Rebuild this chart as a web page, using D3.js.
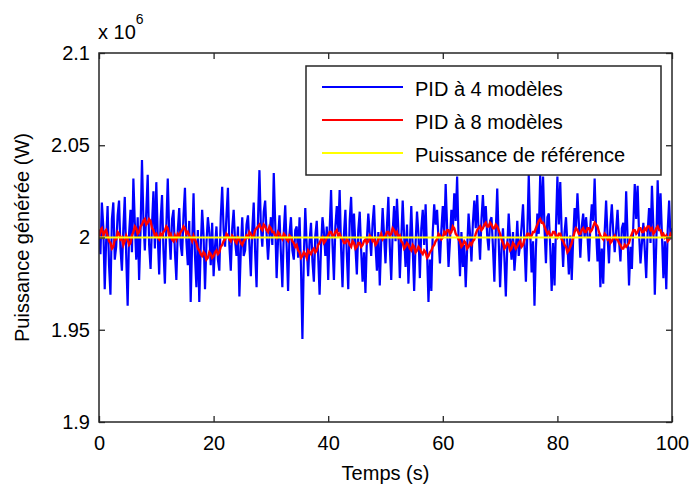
<!DOCTYPE html>
<html>
<head>
<meta charset="utf-8">
<script src="https://cdnjs.cloudflare.com/ajax/libs/d3/7.8.5/d3.min.js"></script>
<style>
  html, body { margin: 0; padding: 0; background: #fff; }
  text { font-family: "Liberation Sans", Arial, sans-serif; fill: #000; }
</style>
</head>
<body>
<div id="chart"></div>
<script>
// sample step of both simulated signals (s)
const dt = 0.25

// PID à 4 modèles (x 10^6 W), one value every 0.25 s from 0 to 100 s
const pid4 = [
  2.004, 1.991, 2.019, 2.006, 1.972, 1.998, 2.017, 1.985, 1.969, 2.010, 2.019, 1.988, 1.995, 2.012, 2.020, 1.994, 1.982, 2.005, 2.022, 1.990,
  1.963, 2.002, 2.015, 1.992, 2.032, 2.008, 1.988, 2.011, 1.977, 2.004, 2.042, 2.010, 1.993, 2.014, 2.034, 1.996, 1.983, 2.007, 2.025, 1.994,
  2.030, 2.001, 1.980, 2.009, 2.023, 1.993, 1.975, 2.006, 2.032, 2.003, 1.988, 2.010, 2.015, 1.992, 1.977, 2.004, 2.016, 1.996, 1.990, 2.012,
  2.027, 1.998, 1.985, 2.009, 1.965, 1.996, 2.024, 1.990, 1.973, 2.004, 1.965, 1.994, 2.015, 2.001, 1.972, 1.997, 2.011, 2.003, 1.985, 2.008,
  1.979, 1.995, 2.006, 1.988, 1.982, 2.011, 2.0275, 2.004, 1.995, 2.012, 2.027, 1.996, 1.982, 2.005, 2.015, 1.998, 1.990, 2.006, 1.968, 1.993,
  2.011, 1.990, 1.993, 2.007, 2.012, 1.996, 1.979, 2.004, 2.019, 1.992, 1.973, 2.010, 2.0365, 2.006, 1.995, 2.014, 2.020, 2.002, 1.988, 2.001,
  2.011, 1.996, 2.035, 2.008, 1.978, 1.999, 2.012, 1.991, 1.973, 2.003, 2.0175, 1.995, 1.971, 2.002, 2.011, 1.993, 1.988, 2.004, 2.006, 1.989,
  2.011, 1.984, 1.945, 1.990, 2.016, 1.996, 1.979, 1.998, 2.008, 1.987, 1.976, 2.001, 2.009, 1.990, 1.969, 1.995, 2.011, 2.003, 1.990, 2.006,
  1.977, 2.004, 2.0257, 1.996, 1.977, 2.006, 2.017, 2.003, 2.0257, 1.994, 1.973, 2.002, 2.015, 1.991, 1.972, 2.009, 2.022, 1.997, 2.013, 1.995,
  1.980, 2.004, 2.014, 1.993, 1.976, 1.992, 1.970, 1.999, 2.013, 2.002, 1.990, 2.008, 2.0175, 1.996, 1.982, 2.003, 1.974, 1.998, 2.016, 2.001,
  1.986, 2.006, 2.022, 1.995, 1.977, 2.003, 2.017, 1.998, 2.021, 2.004, 1.978, 1.999, 2.020, 2.001, 1.984, 2.007, 1.975, 1.996, 2.017, 1.994,
  1.971, 1.997, 2.014, 2.002, 1.978, 2.005, 2.015, 1.996, 2.018, 1.992, 1.965, 1.988, 1.971, 2.003, 2.018, 2.007, 2.015, 1.999, 1.986, 2.004,
  2.017, 2.001, 2.029, 2.006, 1.984, 1.998, 2.015, 2.004, 2.024, 2.009, 2.033, 2.000, 1.979, 2.003, 1.984, 1.996, 1.973, 1.994, 2.013, 2.002,
  1.987, 2.008, 2.020, 2.005, 2.023, 2.003, 1.988, 2.010, 2.023, 2.006, 2.017, 2.001, 1.993, 2.009, 2.011, 1.995, 1.976, 2.004, 2.0266, 1.999,
  1.973, 1.994, 2.005, 1.989, 1.968, 1.995, 2.013, 1.999, 1.988, 2.003, 1.982, 1.993, 2.009, 1.990, 1.996, 2.006, 2.018, 1.997, 1.976, 2.002,
  2.0338, 2.004, 1.981, 1.998, 1.963, 1.994, 2.013, 2.002, 2.0338, 2.008, 2.033, 2.005, 1.986, 2.011, 2.013, 1.995, 1.971, 1.997, 1.974, 2.006,
  2.033, 2.007, 2.030, 2.002, 1.984, 2.003, 2.011, 1.996, 1.980, 2.001, 1.977, 1.999, 2.016, 2.005, 2.024, 2.008, 1.989, 2.006, 2.013, 2.000,
  2.011, 2.001, 1.987, 2.006, 2.018, 2.009, 2.032, 2.004, 1.987, 2.002, 1.973, 1.994, 1.975, 2.003, 2.020, 2.001, 1.986, 2.007, 2.018, 2.003,
  1.992, 2.004, 2.015, 1.999, 1.987, 2.005, 2.008, 1.996, 2.025, 2.000, 1.974, 1.995, 1.983, 2.007, 2.029, 2.010, 2.028, 2.002, 1.986, 1.997,
  2.008, 1.993, 1.978, 2.003, 2.016, 1.997, 2.028, 2.006, 1.969, 1.996, 2.031, 2.004, 2.024, 2.001, 1.978, 1.998, 1.972, 2.004, 2.020, 1.999,
  2.005
]

// PID à 8 modèles (x 10^6 W), same sampling
const pid8 = [
  2.000, 2.004, 2.005, 2.001, 2.003, 2.004, 2.001, 1.998, 1.997, 1.994, 1.995, 1.999, 1.999, 2.003, 2.002, 1.999, 2.000, 1.996, 1.998, 2.001,
  1.999, 1.996, 1.997, 2.001, 2.003, 2.006, 2.005, 2.002, 2.003, 2.006, 2.007, 2.009, 2.010, 2.007, 2.008, 2.010, 2.009, 2.005, 2.004, 2.001,
  2.002, 2.000, 1.999, 2.002, 2.001, 2.003, 2.004, 2.006, 2.005, 2.001, 2.002, 1.999, 1.998, 2.001, 1.999, 2.002, 2.001, 2.003, 2.004, 2.006,
  2.005, 2.002, 2.003, 2.001, 2.000, 1.998, 2.001, 1.999, 1.997, 1.994, 1.993, 1.991, 1.990, 1.992, 1.991, 1.988, 1.989, 1.992, 1.991, 1.989,
  1.990, 1.992, 1.993, 1.991, 1.992, 1.995, 1.996, 1.998, 1.999, 2.002, 2.001, 1.999, 1.998, 2.001, 2.000, 1.998, 1.997, 2.000, 1.999, 1.997,
  1.996, 1.998, 1.999, 2.001, 2.000, 2.003, 2.002, 2.000, 2.001, 2.004, 2.005, 2.006, 2.007, 2.005, 2.004, 2.007, 2.006, 2.004, 2.003, 2.006,
  2.005, 2.003, 2.003, 2.001, 2.000, 2.003, 2.002, 2.000, 1.999, 2.002, 2.001, 1.999, 1.998, 2.001, 2.000, 1.998, 1.997, 1.995, 1.996, 1.993,
  1.992, 1.989, 1.990, 1.992, 1.991, 1.989, 1.993, 1.992, 1.991, 1.993, 1.994, 1.992, 1.993, 1.996, 1.997, 1.999, 2.000, 1.997, 1.998, 2.000,
  2.001, 2.003, 2.003, 2.001, 2.001, 2.003, 2.004, 2.001, 2.002, 2.000, 1.999, 1.997, 1.997, 1.999, 1.998, 1.996, 1.995, 1.998, 1.997, 1.994,
  1.995, 1.997, 1.997, 1.995, 1.996, 1.998, 1.999, 1.997, 1.998, 2.001, 2.000, 1.998, 1.999, 1.996, 1.997, 1.999, 2.000, 2.002, 1.999, 2.000,
  2.001, 2.003, 2.003, 2.001, 2.002, 2.005, 2.004, 2.002, 2.003, 2.000, 2.001, 1.998, 1.997, 1.994, 1.995, 1.997, 1.996, 1.994, 1.993, 1.996,
  1.995, 1.992, 1.993, 1.995, 1.994, 1.992, 1.991, 1.993, 1.992, 1.989, 1.990, 1.992, 1.993, 1.995, 1.996, 1.998, 1.999, 2.002, 2.001, 1.999,
  2.000, 2.003, 2.002, 2.004, 2.004, 2.002, 2.003, 2.006, 2.005, 2.002, 2.001, 1.999, 1.998, 1.995, 1.996, 1.998, 1.997, 1.994, 1.995, 1.997,
  1.996, 1.998, 1.999, 2.002, 2.004, 2.005, 2.006, 2.004, 2.005, 2.007, 2.008, 2.006, 2.006, 2.008, 2.007, 2.005, 2.005, 2.007, 2.006, 2.004,
  2.002, 1.999, 1.997, 1.994, 1.995, 1.997, 1.996, 1.993, 1.994, 1.997, 1.996, 1.994, 1.995, 1.997, 1.998, 1.995, 1.996, 1.999, 2.000, 2.002,
  2.002, 2.000, 2.001, 2.003, 2.003, 2.005, 2.007, 2.009, 2.010, 2.008, 2.008, 2.006, 2.004, 2.002, 2.003, 2.001, 2.001, 2.003, 2.003, 2.001,
  2.000, 2.002, 2.002, 1.999, 1.998, 1.996, 1.995, 1.992, 1.993, 1.995, 1.997, 2.000, 2.003, 2.005, 2.004, 2.002, 2.002, 2.004, 2.005, 2.003,
  2.003, 2.005, 2.005, 2.003, 2.004, 2.006, 2.008, 2.007, 2.006, 2.003, 2.001, 2.000, 1.999, 2.002, 2.001, 1.999, 2.000, 1.997, 1.998, 2.000,
  2.001, 1.999, 1.999, 1.997, 1.996, 1.994, 1.994, 1.996, 1.995, 1.996, 1.997, 2.000, 2.002, 2.004, 2.004, 2.002, 2.003, 2.005, 2.005, 2.003,
  2.003, 2.005, 2.004, 2.006, 2.006, 2.004, 2.005, 2.002, 2.003, 2.005, 2.006, 2.004, 2.004, 2.001, 2.002, 2.000, 2.001, 1.998, 1.999, 2.002,
  2.001
]

// Puissance de référence
const refTime = [0, 100]
const refValue = [2.0, 2.0]

const xTicks = [0, 20, 40, 60, 80, 100]
const yTicks = [1.9, 1.95, 2.0, 2.05, 2.1]
const yTickLabels = ['1.9', '1.95', '2', '2.05', '2.1']

const legendLabels = ['PID à 4 modèles', 'PID à 8 modèles', 'Puissance de référence']
const colors = ['#0000ff', '#ff0000', '#ffff00']
const widths = [2.2, 2.4, 2]

const width = 690
const height = 487
const plotLeft = 99, plotRight = 672, plotTop = 53, plotBottom = 422

const svg = d3.select('#chart')
  .append('svg')
  .attr('width', width)
  .attr('height', height)

const x = d3.scaleLinear().domain([0, 100]).range([plotLeft, plotRight])
const y = d3.scaleLinear().domain([1.9, 2.1]).range([plotBottom, plotTop])

svg.append('clipPath')
  .attr('id', 'plot-clip')
  .append('rect')
  .attr('x', plotLeft).attr('y', plotTop)
  .attr('width', plotRight - plotLeft).attr('height', plotBottom - plotTop)

const line = d3.line()
  .x(d => x(d[0]))
  .y(d => y(d[1]))

const series = [
  pid4.map((v, i) => [i * dt, v]),
  pid8.map((v, i) => [i * dt, v]),
  refTime.map((t, i) => [t, refValue[i]])
]

const plot = svg.append('g').attr('clip-path', 'url(#plot-clip)')
series.forEach((s, i) => {
  plot.append('path')
    .datum(s)
    .attr('d', line)
    .attr('fill', 'none')
    .attr('stroke', colors[i])
    .attr('stroke-width', widths[i])
})

// axes, ticks pointing inward on all four sides
function styleAxis(g) {
  g.select('.domain').remove()
  g.selectAll('.tick line').attr('stroke', '#262626').attr('stroke-width', 1.3)
  g.selectAll('.tick text')
    .style('font-size', '20px')
    .style('font-family', '"Liberation Sans", Arial, sans-serif')
    .attr('fill', '#000')
}

svg.append('g')
  .attr('transform', `translate(0,${plotBottom})`)
  .call(d3.axisBottom(x).tickValues(xTicks).tickSize(-6).tickPadding(14))
  .call(styleAxis)

svg.append('g')
  .attr('transform', `translate(${plotLeft},0)`)
  .call(d3.axisLeft(y).tickValues(yTicks).tickFormat((d, i) => yTickLabels[i]).tickSize(-6).tickPadding(9))
  .call(styleAxis)

svg.append('g')
  .attr('transform', `translate(0,${plotTop})`)
  .call(d3.axisTop(x).tickValues(xTicks).tickFormat('').tickSize(-6))
  .call(styleAxis)

svg.append('g')
  .attr('transform', `translate(${plotRight},0)`)
  .call(d3.axisRight(y).tickValues(yTicks).tickFormat('').tickSize(-6))
  .call(styleAxis)

svg.append('rect')
  .attr('x', plotLeft).attr('y', plotTop)
  .attr('width', plotRight - plotLeft).attr('height', plotBottom - plotTop)
  .attr('fill', 'none')
  .attr('stroke', '#262626')
  .attr('stroke-width', 1.5)

// exponent
const expo = svg.append('text')
  .attr('x', 98)
  .attr('y', 39)
  .style('font-size', '20px')
  .text('x 10')
expo.append('tspan')
  .attr('dy', -15)
  .style('font-size', '14px')
  .text('6')

// axis labels
svg.append('text')
  .attr('x', (plotLeft + plotRight) / 2)
  .attr('y', 480)
  .attr('text-anchor', 'middle')
  .style('font-size', '20px')
  .text('Temps (s)')

svg.append('text')
  .attr('transform', `translate(29,${(plotTop + plotBottom) / 2}) rotate(-90)`)
  .attr('text-anchor', 'middle')
  .style('font-size', '20px')
  .text('Puissance générée (W)')

// legend
const legend = svg.append('g')
legend.append('rect')
  .attr('x', 306).attr('y', 66)
  .attr('width', 355).attr('height', 109)
  .attr('fill', '#fff')
  .attr('stroke', '#262626')
  .attr('stroke-width', 1.5)

const legendY = d3.scalePoint().domain(legendLabels).range([87, 153])
legendLabels.forEach((label, i) => {
  legend.append('line')
    .attr('x1', 322).attr('x2', 403)
    .attr('y1', legendY(label)).attr('y2', legendY(label))
    .attr('stroke', colors[i])
    .attr('stroke-width', 2)
  legend.append('text')
    .attr('x', 415)
    .attr('y', legendY(label) + 9)
    .style('font-size', '20px')
    .text(label)
})
</script>
</body>
</html>
